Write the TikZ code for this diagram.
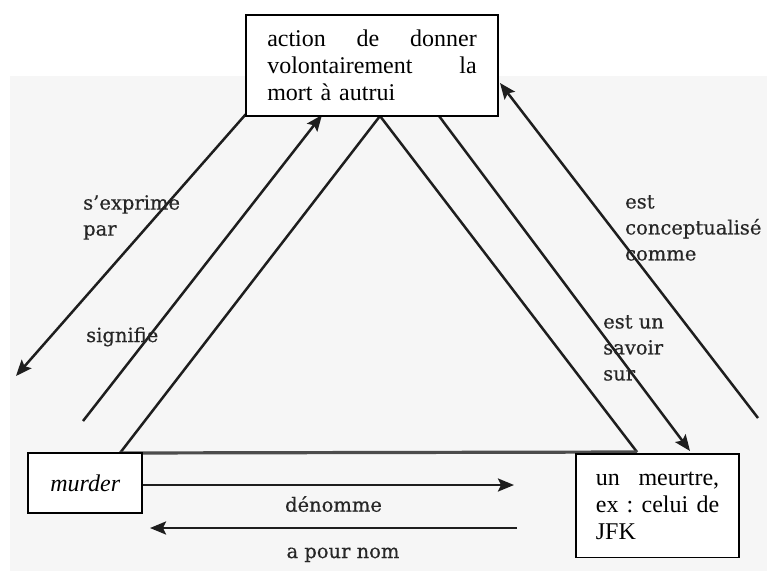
\documentclass[tikz,border=0pt]{standalone}
\usepackage{fontspec}
\setmainfont{Liberation Serif}
\newfontfamily\labelfont{DejaVu Serif}[FakeBold=0.5]
\usetikzlibrary{arrows.meta}
\definecolor{sheet}{HTML}{F6F6F6}
\definecolor{ink}{HTML}{1E1E1E}
\begin{document}
\begin{tikzpicture}[x=1pt,y=-1pt,
  conceptbox/.style={draw=black, line width=1.7pt, fill=white, inner sep=0pt,
    font=\fontsize{24}{27}\selectfont},
  link/.style={draw=ink, line width=2.5pt},
  linkarrow/.style={link, -{Stealth[length=16pt,width=13pt,inset=3pt]}},
  linklabel/.style={font=\labelfont\fontsize{19.5}{26}\selectfont,
    text=black!85, inner sep=0pt, align=left}
]
\useasboundingbox (0,0) rectangle (767,571);
% light grey sheet behind the diagram
\fill[sheet] (10,76) rectangle (767,571);

% semiotic triangle
\coordinate (apex) at (380,116);
\coordinate (baseL) at (120,453);
\coordinate (baseR) at (637,452);
\draw[link] (baseL) -- (apex) -- (baseR);
\draw[link, line width=3.2pt, draw=black!70] (baseL) -- (baseR);

% free-standing relation arrows along the sides
\coordinate (exprTail) at (246,114);
\coordinate (exprTip) at (16,376);
\coordinate (sigTail) at (83,421);
\coordinate (sigTip) at (322,115);
\coordinate (savTail) at (439,116);
\coordinate (savTip) at (690,451);
\coordinate (concTail) at (758,418);
\coordinate (concTip) at (500,83);
\draw[linkarrow] (exprTail) -- (exprTip);
\draw[linkarrow] (sigTail) -- (sigTip);
\draw[linkarrow] (savTail) -- (savTip);
\draw[linkarrow] (concTail) -- (concTip);

% the three poles
\node[conceptbox, minimum width=252pt, minimum height=101pt,
      text width=209.5pt, align=left] (act) at (372,65.5)
  {action\hfill de\hfill donner\\ volontairement\hfill la\\ mort à autrui};
\node[conceptbox, minimum width=114pt, minimum height=60.6pt] (murder) at (85.3,483)
  {\itshape murder};
\node[conceptbox, minimum width=163.6pt, minimum height=103.3pt,
      text width=123.3pt, align=left] (fact) at (657.5,505.7)
  {un\hfill meurtre,\\ ex\hfill :\hfill celui\hfill de\\ JFK};

% naming arrows along the base
\coordinate (nameTip) at (514,485);
\coordinate (backTail) at (517,528);
\coordinate (backTip) at (150,528);
\draw[linkarrow] (murder.east |- nameTip) -- (nameTip);
\draw[linkarrow] (backTail) -- (backTip);

% relation labels
\node[linklabel, anchor=north west] (lExpr) at (83,195) {s’exprime\\par};
\node[linklabel, anchor=base west] (lSig) at (86,342) {signifie};
\node[linklabel, anchor=north west] (lConc) at (625,195) {est\\conceptualisé\\comme};
\node[linklabel, anchor=north west] (lSav) at (603,315) {est un\\savoir\\sur};
\node[linklabel, anchor=base] (lName) at (333.5,511.7) {dénomme};
\node[linklabel, anchor=base] (lBack) at (343,558) {a pour nom};
\end{tikzpicture}
\end{document}
